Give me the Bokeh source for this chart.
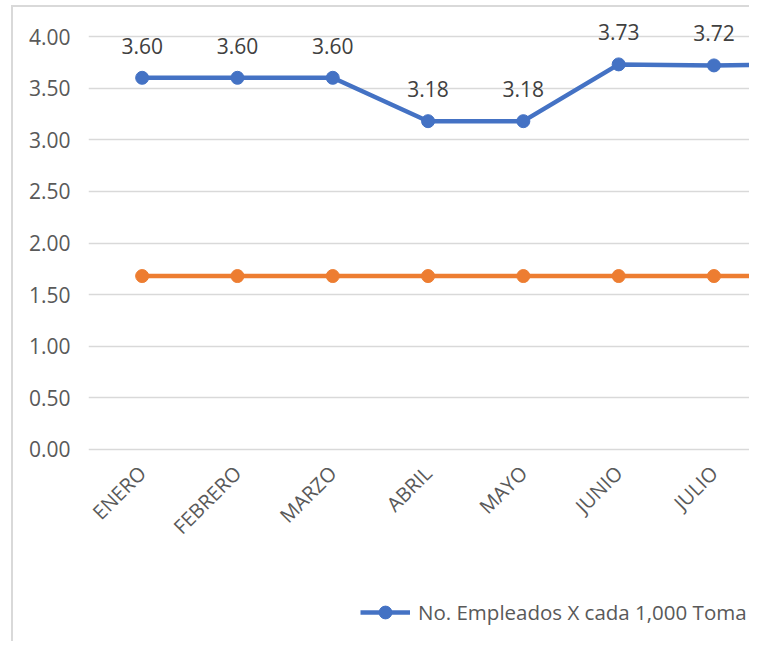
import math
from bokeh.plotting import figure
from bokeh.models import (ColumnDataSource, Range1d, FixedTicker, Legend, LegendItem,
                          CDSView, IndexFilter, CustomJSTickFormatter)
from bokeh.core.properties import value
from bokeh.embed import file_html
from bokeh.resources import INLINE

# ---- data ----
months = ["ENERO", "FEBRERO", "MARZO", "ABRIL", "MAYO", "JUNIO", "JULIO", "AGOSTO"]
empleados = [3.60, 3.60, 3.60, 3.18, 3.18, 3.73, 3.72, 3.73]
referencia = [1.68, 1.68, 1.68, 1.68, 1.68, 1.68, 1.68, 1.68]
y_ticks = [0.0, 0.5, 1.0, 1.5, 2.0, 2.5, 3.0, 3.5, 4.0]
legend_label = "No. Empleados X cada 1,000 Toma"
visible_count = 7  # months whose data labels fall inside the visible area

BLUE = "#4472C4"
ORANGE = "#ED7D31"
GRID = "#D9D9D9"
TXT = "#595959"
FONT = "Open Sans"

xs = list(range(len(months)))
src = ColumnDataSource(dict(
    x=xs, m=months, emp=empleados, ref=referencia,
    lab=["%.2f" % v for v in empleados],
))

p = figure(width=738, height=636, output_backend="svg", toolbar_location=None,
           x_range=Range1d(-0.563, 6.394), y_range=Range1d(-1.879, 4.281),
           min_border_left=75, min_border_right=0, min_border_top=0,
           min_border_bottom=0)
p.margin = (5, 0, 0, 11)
p.styles = {"border-left": "2px solid #D9D9D9", "border-top": "2px solid #D9D9D9"}
p.outline_line_color = None
p.background_fill_color = "white"
p.border_fill_color = "white"

# axes
p.yaxis.ticker = FixedTicker(ticks=y_ticks)
p.yaxis.formatter = CustomJSTickFormatter(code="return tick.toFixed(2);")
p.yaxis.axis_line_color = None
p.yaxis.major_tick_line_color = None
p.yaxis.minor_tick_line_color = None
p.yaxis.major_label_standoff = 12
p.yaxis.major_label_text_font = FONT
p.yaxis.major_label_text_font_size = "21px"
p.yaxis.major_label_text_color = TXT

p.xaxis.fixed_location = 0
p.xaxis.ticker = FixedTicker(ticks=xs)
p.xaxis.major_label_overrides = {i: m for i, m in enumerate(months)}
p.xaxis.major_label_orientation = math.pi / 4
p.xaxis.axis_line_color = None
p.xaxis.major_tick_line_color = None
p.xaxis.minor_tick_line_color = None
p.xaxis.major_label_standoff = 14
p.xaxis.major_label_text_font = FONT
p.xaxis.major_label_text_font_size = "20px"
p.xaxis.major_label_text_color = TXT

p.xgrid.grid_line_color = None
p.ygrid.ticker = FixedTicker(ticks=y_ticks)
p.ygrid.grid_line_color = GRID
p.ygrid.grid_line_width = 1.5

# series
r_emp = p.line("x", "emp", source=src, line_color=BLUE, line_width=4.5)
c_emp = p.scatter("x", "emp", source=src, size=13, fill_color=BLUE, line_color=BLUE)
p.line("x", "ref", source=src, line_color=ORANGE, line_width=4.5)
p.scatter("x", "ref", source=src, size=13, fill_color=ORANGE, line_color=ORANGE)

p.text("x", "emp", text="lab", source=src,
       view=CDSView(filter=IndexFilter(list(range(visible_count)))),
       text_align="center", text_baseline="alphabetic", y_offset=-32,
       text_font=value(FONT), text_font_size="21px", text_color="#404040")

legend = Legend(items=[LegendItem(label=legend_label, renderers=[r_emp, c_emp])],
                location=(272, 15), orientation="horizontal",
                glyph_width=50, glyph_height=32, label_standoff=8,
                padding=0, margin=0, border_line_color=None,
                background_fill_alpha=0,
                label_text_font=FONT, label_text_font_size="20.5px",
                label_text_color=TXT)
p.add_layout(legend)

open("out.html", "w").write(file_html(p, INLINE))
